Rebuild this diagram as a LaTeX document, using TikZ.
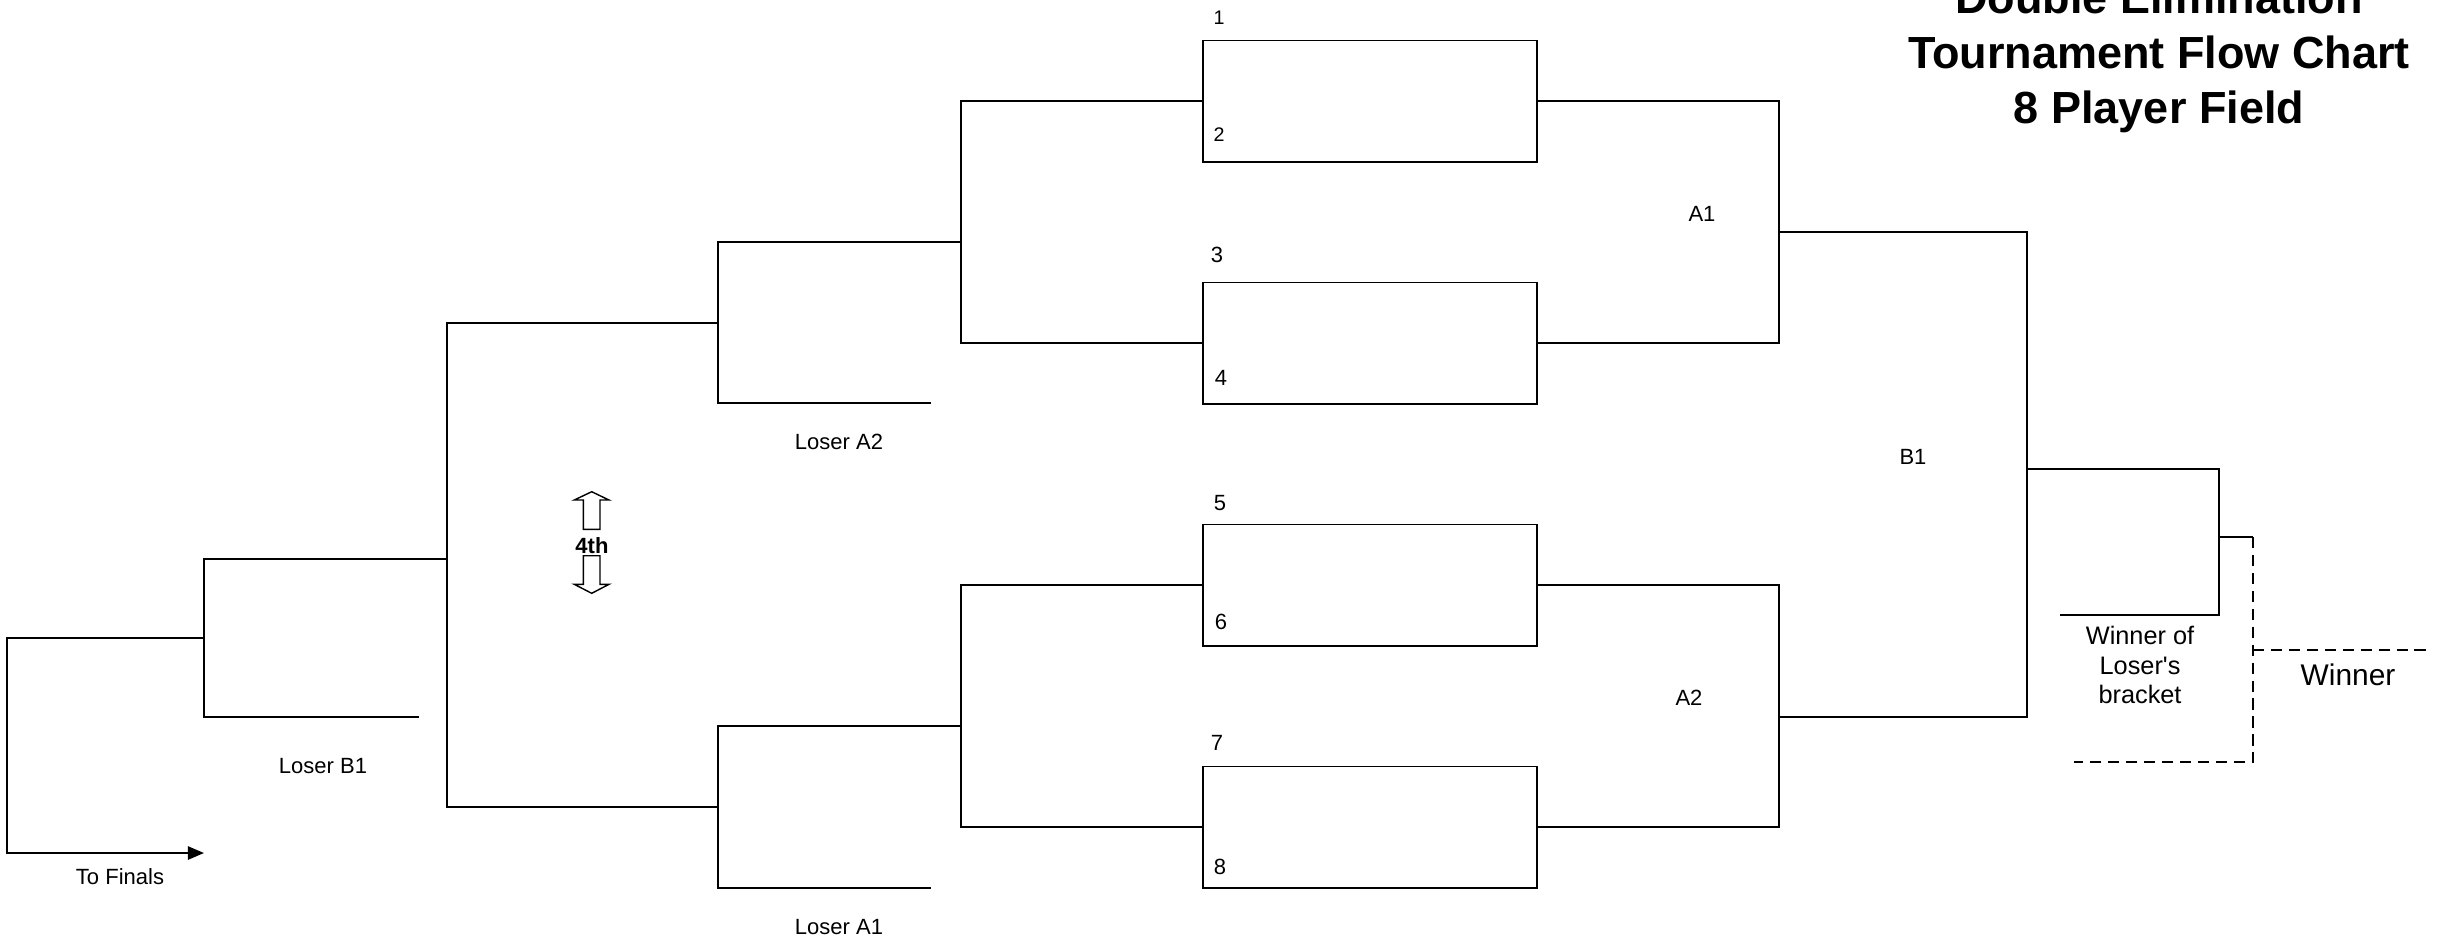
\documentclass[tikz,border=0pt]{standalone}
\usepackage{fontspec}
\setmainfont{Liberation Sans}
\usetikzlibrary{arrows.meta}
\begin{document}
\begin{tikzpicture}[x=0.01cm,y=-0.01cm,line width=0.5pt,
  matchbox/.style={draw,line width=0.55pt,minimum width=3.34cm,minimum height=1.21cm,inner sep=0pt,outer sep=0pt},
  lbl/.style={inner sep=0pt,font=\fontsize{6.26}{7.5}\selectfont},
  smalllbl/.style={inner sep=0pt,font=\fontsize{5.6}{6.5}\selectfont},
  dashline/.style={dash pattern=on 3.2pt off 1.9pt},
  bigarrow/.style={draw,line width=0.4pt}]
\useasboundingbox (0,0) rectangle (2451,941);

% match boxes
\node[matchbox] (m1) at (1370,101) {};
\node[matchbox] (m2) at (1370,343) {};
\node[matchbox] (m3) at (1370,585) {};
\node[matchbox] (m4) at (1370,827) {};

% seed numbers
\node[smalllbl] (n1) at (1219,18) {1};
\node[smalllbl] (n2) at (1219,135) {2};
\node[lbl] (n3) at (1217,255) {3};
\node[lbl] (n4) at (1221,378) {4};
\node[lbl] (n5) at (1220,503) {5};
\node[lbl] (n6) at (1221,622) {6};
\node[lbl] (n7) at (1217,743) {7};
\node[lbl] (n8) at (1220,867) {8};

% left (loser's) bracket
\coordinate (l1t) at (961,101); \coordinate (l1b) at (961,343); \coordinate (l1m) at (961,242);
\coordinate (l2t) at (718,242); \coordinate (l2b) at (718,403); \coordinate (la2) at (931,403); \coordinate (l2m) at (718,323);
\coordinate (l3t) at (961,585); \coordinate (l3b) at (961,827); \coordinate (l3m) at (961,726);
\coordinate (l4t) at (718,726); \coordinate (l4b) at (718,888); \coordinate (la1) at (931,888); \coordinate (l4m) at (718,807);
\coordinate (l5t) at (447,323); \coordinate (l5b) at (447,807); \coordinate (l5m) at (447,559);
\coordinate (l6t) at (204,559); \coordinate (l6b) at (204,717); \coordinate (lb1) at (419,717); \coordinate (l6m) at (204,638);
\coordinate (l7t) at (7,638); \coordinate (l7b) at (7,853); \coordinate (fin) at (204,853);

\draw (m1.west) -- (l1t) -- (l1b) -- (m2.west);
\draw (l1m) -- (l2t) -- (l2b) -- (la2);
\draw (m3.west) -- (l3t) -- (l3b) -- (m4.west);
\draw (l3m) -- (l4t) -- (l4b) -- (la1);
\draw (l2m) -- (l5t) -- (l5b) -- (l4m);
\draw (l5m) -- (l6t) -- (l6b) -- (lb1);
\draw[-{Triangle[length=4.6pt,width=3.8pt]}] (l6m) -- (l7t) -- (l7b) -- (fin);

% right (winner's) bracket
\coordinate (r1t) at (1779,101); \coordinate (r1b) at (1779,343); \coordinate (r1m) at (1779,232);
\coordinate (r2t) at (1779,585); \coordinate (r2b) at (1779,827); \coordinate (r2m) at (1779,717);
\coordinate (r3t) at (2027,232); \coordinate (r3b) at (2027,717); \coordinate (r3m) at (2027,469);
\coordinate (r4t) at (2219,469); \coordinate (r4b) at (2219,615); \coordinate (wlb) at (2060,615); \coordinate (r4m) at (2219,537);
\coordinate (d1) at (2253,537); \coordinate (d2) at (2253,762); \coordinate (d3) at (2074,762);
\coordinate (d4) at (2253,650); \coordinate (d5) at (2432,650);

\draw (m1.east) -- (r1t) -- (r1b) -- (m2.east);
\draw (m3.east) -- (r2t) -- (r2b) -- (m4.east);
\draw (r1m) -- (r3t) -- (r3b) -- (r2m);
\draw (r3m) -- (r4t) -- (r4b) -- (wlb);
\draw (r4m) -- (d1);
\draw[dashline] (d1) -- (d2) -- (d3);
\draw[dashline] (d4) -- (d5);

% labels
\node[lbl] (tla2) at (839,442) {Loser A2};
\node[lbl] (tla1) at (839,927) {Loser A1};
\node[lbl] (tlb1) at (323,766) {Loser B1};
\node[lbl] (tfin) at (120,877) {To Finals};
\node[lbl] (ta1) at (1702,214) {A1};
\node[lbl] (ta2) at (1689,698) {A2};
\node[lbl] (tb1) at (1913,457) {B1};
\node[inner sep=0pt,font=\fontsize{8.5}{10}\selectfont] (twin) at (2348,675) {Winner};
\node[inner sep=0pt,align=center,font=\fontsize{7.2}{8.5}\selectfont] (twlb) at (2140,665) {Winner of\\Loser\textquotesingle s\\bracket};

% 4th place marker
\node[lbl,font=\fontsize{6.26}{7.5}\selectfont\bfseries] (fourth) at (592,546) {4th};
\draw[bigarrow] (591.7,491.7) -- (609,500) -- (600,500) -- (600,529.3) -- (583.3,529.3) -- (583.3,500) -- (574.3,500) -- cycle;
\draw[bigarrow] (583.3,555.7) -- (600,555.7) -- (600,584.3) -- (609,584.3) -- (591.7,593.3) -- (574.3,584.3) -- (583.3,584.3) -- cycle;

% title
\node[inner sep=0pt,align=center,font=\fontsize{12.8}{15.65}\selectfont\bfseries] (title) at (2159,57)
  {Double Elimination\\Tournament Flow Chart\\8 Player Field};
\end{tikzpicture}
\end{document}
